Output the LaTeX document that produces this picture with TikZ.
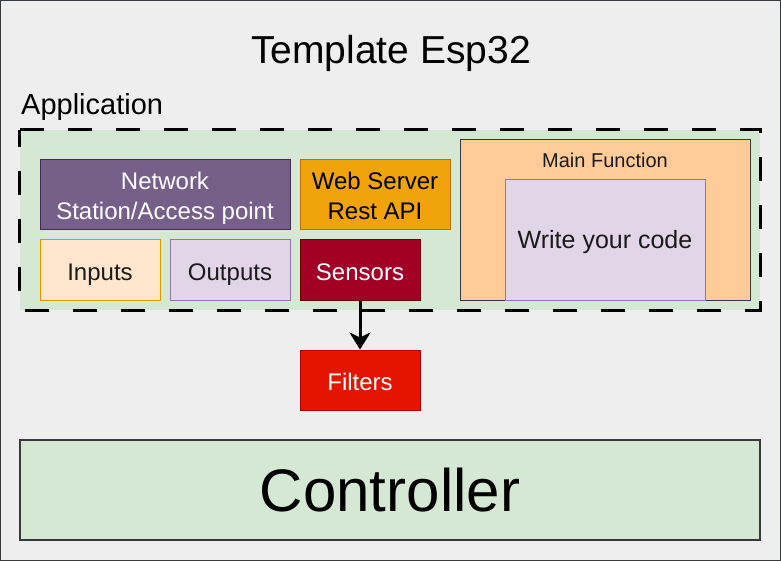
\documentclass[tikz,border=0pt]{standalone}
\usepackage{fontspec}
\setmainfont{Liberation Sans}
\usetikzlibrary{arrows.meta}
\definecolor{bgcol}{HTML}{EEEEEE}
\definecolor{framecol}{HTML}{36393D}
\definecolor{greenfill}{HTML}{D5E8D4}
\definecolor{netfill}{HTML}{76608A}
\definecolor{netdraw}{HTML}{432D57}
\definecolor{webfill}{HTML}{F0A30A}
\definecolor{webdraw}{HTML}{BD7000}
\definecolor{infill}{HTML}{FFE6CC}
\definecolor{indraw}{HTML}{D79B00}
\definecolor{outfill}{HTML}{E1D5E7}
\definecolor{outdraw}{HTML}{9673A6}
\definecolor{sensfill}{HTML}{A20025}
\definecolor{sensdraw}{HTML}{6F0000}
\definecolor{filtfill}{HTML}{E51400}
\definecolor{filtdraw}{HTML}{B20000}
\definecolor{mainfill}{HTML}{FFCC99}
\definecolor{darktext}{HTML}{1A1A1A}
\newcommand\twolines[2]{\raisebox{0pt}[55pt][5pt]{\begin{tabular}[b]{@{}c@{}}#1\\#2\end{tabular}}}
\begin{document}
\begin{tikzpicture}[x=1pt,y=-1pt,
  box/.style={draw, line width=1pt, inner sep=0pt,
    font=\fontsize{24}{30}\selectfont},
  oneline/.style={text height=22pt, text depth=2pt},
  lbl/.style={inner sep=0pt, anchor=base}]
\useasboundingbox (0,0) rectangle (781,561);
% outer frame
\node[draw=framecol, fill=bgcol, line width=1pt, inner sep=0pt,
  minimum width=780pt, minimum height=560pt] (frame) at (390.5,280.5) {};
% title
\node[lbl, font=\fontsize{39}{46}\selectfont] (title) at (391,64) {Template Esp32};
\node[inner sep=0pt, anchor=base west, font=\fontsize{29}{34}\selectfont] (applbl) at (21,115) {Application};
% application container
\node[fill=greenfill, inner sep=0pt, minimum width=740pt, minimum height=180pt] (app) at (390,220) {};
\draw[line width=3pt, dash pattern=on 24pt off 24pt]
  (app.north west) -- (app.north east) -- (app.south east) -- (app.south west) -- cycle;
% inner boxes
\node[box, fill=netfill, draw=netdraw, text=white, minimum width=250pt, minimum height=70pt]
  (net) at (165,195) {\twolines{Network}{Station/Access point}};
\node[box, fill=webfill, draw=webdraw, text=black, minimum width=150pt, minimum height=70pt]
  (web) at (375,195) {\twolines{Web Server}{Rest API}};
\node[box, oneline, fill=infill, draw=indraw, text=darktext, minimum width=120pt, minimum height=60pt]
  (inp) at (100,270) {Inputs};
\node[box, oneline, fill=outfill, draw=outdraw, text=darktext, minimum width=120pt, minimum height=60pt]
  (outp) at (230,270) {Outputs};
\node[box, oneline, fill=sensfill, draw=sensdraw, text=white, minimum width=120pt, minimum height=60pt]
  (sens) at (360,270) {Sensors};
% main function
\node[box, fill=mainfill, draw=framecol, minimum width=290pt, minimum height=160pt]
  (main) at (605,220) {};
\node[lbl, text=darktext, font=\fontsize{20}{24}\selectfont] (mainlbl) at (605,168) {Main Function};
\node[box, fill=outfill, draw=outdraw, text=darktext, minimum width=200pt, minimum height=120pt,
  font=\fontsize{25}{30}\selectfont, text height=21pt, text depth=3pt]
  (code) at (605,240) {Write your code};
% filters
\node[box, oneline, fill=filtfill, draw=filtdraw, text=white, minimum width=120pt, minimum height=60pt]
  (filt) at (360,380) {Filters};
\draw[line width=3pt, -{Stealth[length=17pt,width=21pt,inset=5pt]}] (sens.south) -- (filt.north);
% controller
\node[box, fill=greenfill, draw=framecol, line width=2pt, text=black, minimum width=740pt,
  minimum height=100pt, font=\fontsize{60}{70}\selectfont, text height=48pt, text depth=5pt]
  (ctrl) at (390,490) {Controller};
\end{tikzpicture}
\end{document}
